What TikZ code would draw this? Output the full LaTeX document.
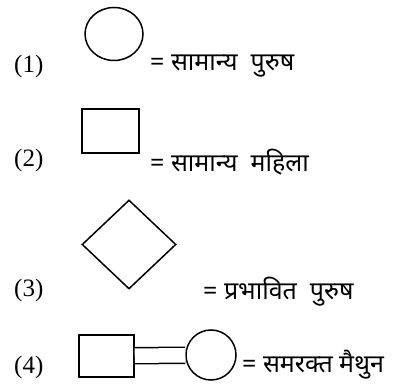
\documentclass[tikz,border=0pt]{standalone}
\usepackage{fontspec}
\setmainfont{Liberation Serif}
\newfontfamily\hindi[Script=Devanagari]{Noto Sans}
\usetikzlibrary{shapes.geometric}

\begin{document}
\begin{tikzpicture}[x=1pt,y=-1pt,
    sym/.style={draw,line width=1.5pt,inner sep=0pt},
    num/.style={anchor=west,inner sep=0pt,font=\fontsize{25}{28}\selectfont},
    hin/.style={anchor=west,inner sep=0pt,font=\fontsize{25}{28}\selectfont\hindi}]
    \useasboundingbox (0,0) rectangle (402,387);
    % (1)
    \node[num] (n1) at (14,66) {(1)};
    \node[sym,ellipse,minimum width=58pt,minimum height=53pt] (male) at (114,34) {};
    \node[hin] (t1) at (150,66) {= सामान्य\ \ पुरुष};
    % (2)
    \node[num] (n2) at (14,160) {(2)};
    \node[sym,rectangle,minimum width=57pt,minimum height=44pt] (female) at (110.5,131) {};
    \node[hin] (t2) at (150,162) {= सामान्य\ \ महिला};
    % (3)
    \node[num] (n3) at (14,290) {(3)};
    \node[sym,diamond,minimum width=94pt,minimum height=89pt] (affected) at (129,244.5) {};
    \node[hin] (t3) at (203,292) {= प्रभावित\ \ पुरुष};
    % (4)
    \node[num] (n4) at (14,367) {(4)};
    \node[sym,rectangle,minimum width=55pt,minimum height=42pt] (sq4) at (106.5,356) {};
    \node[sym,circle,minimum size=50pt] (ci4) at (211,355) {};
    \draw[line width=1.5pt,double,double distance=14.5pt] (sq4) -- (ci4);
    \node[hin] (t4) at (242,365) {= समरक्त\ मैथुन};
\end{tikzpicture}
\end{document}
